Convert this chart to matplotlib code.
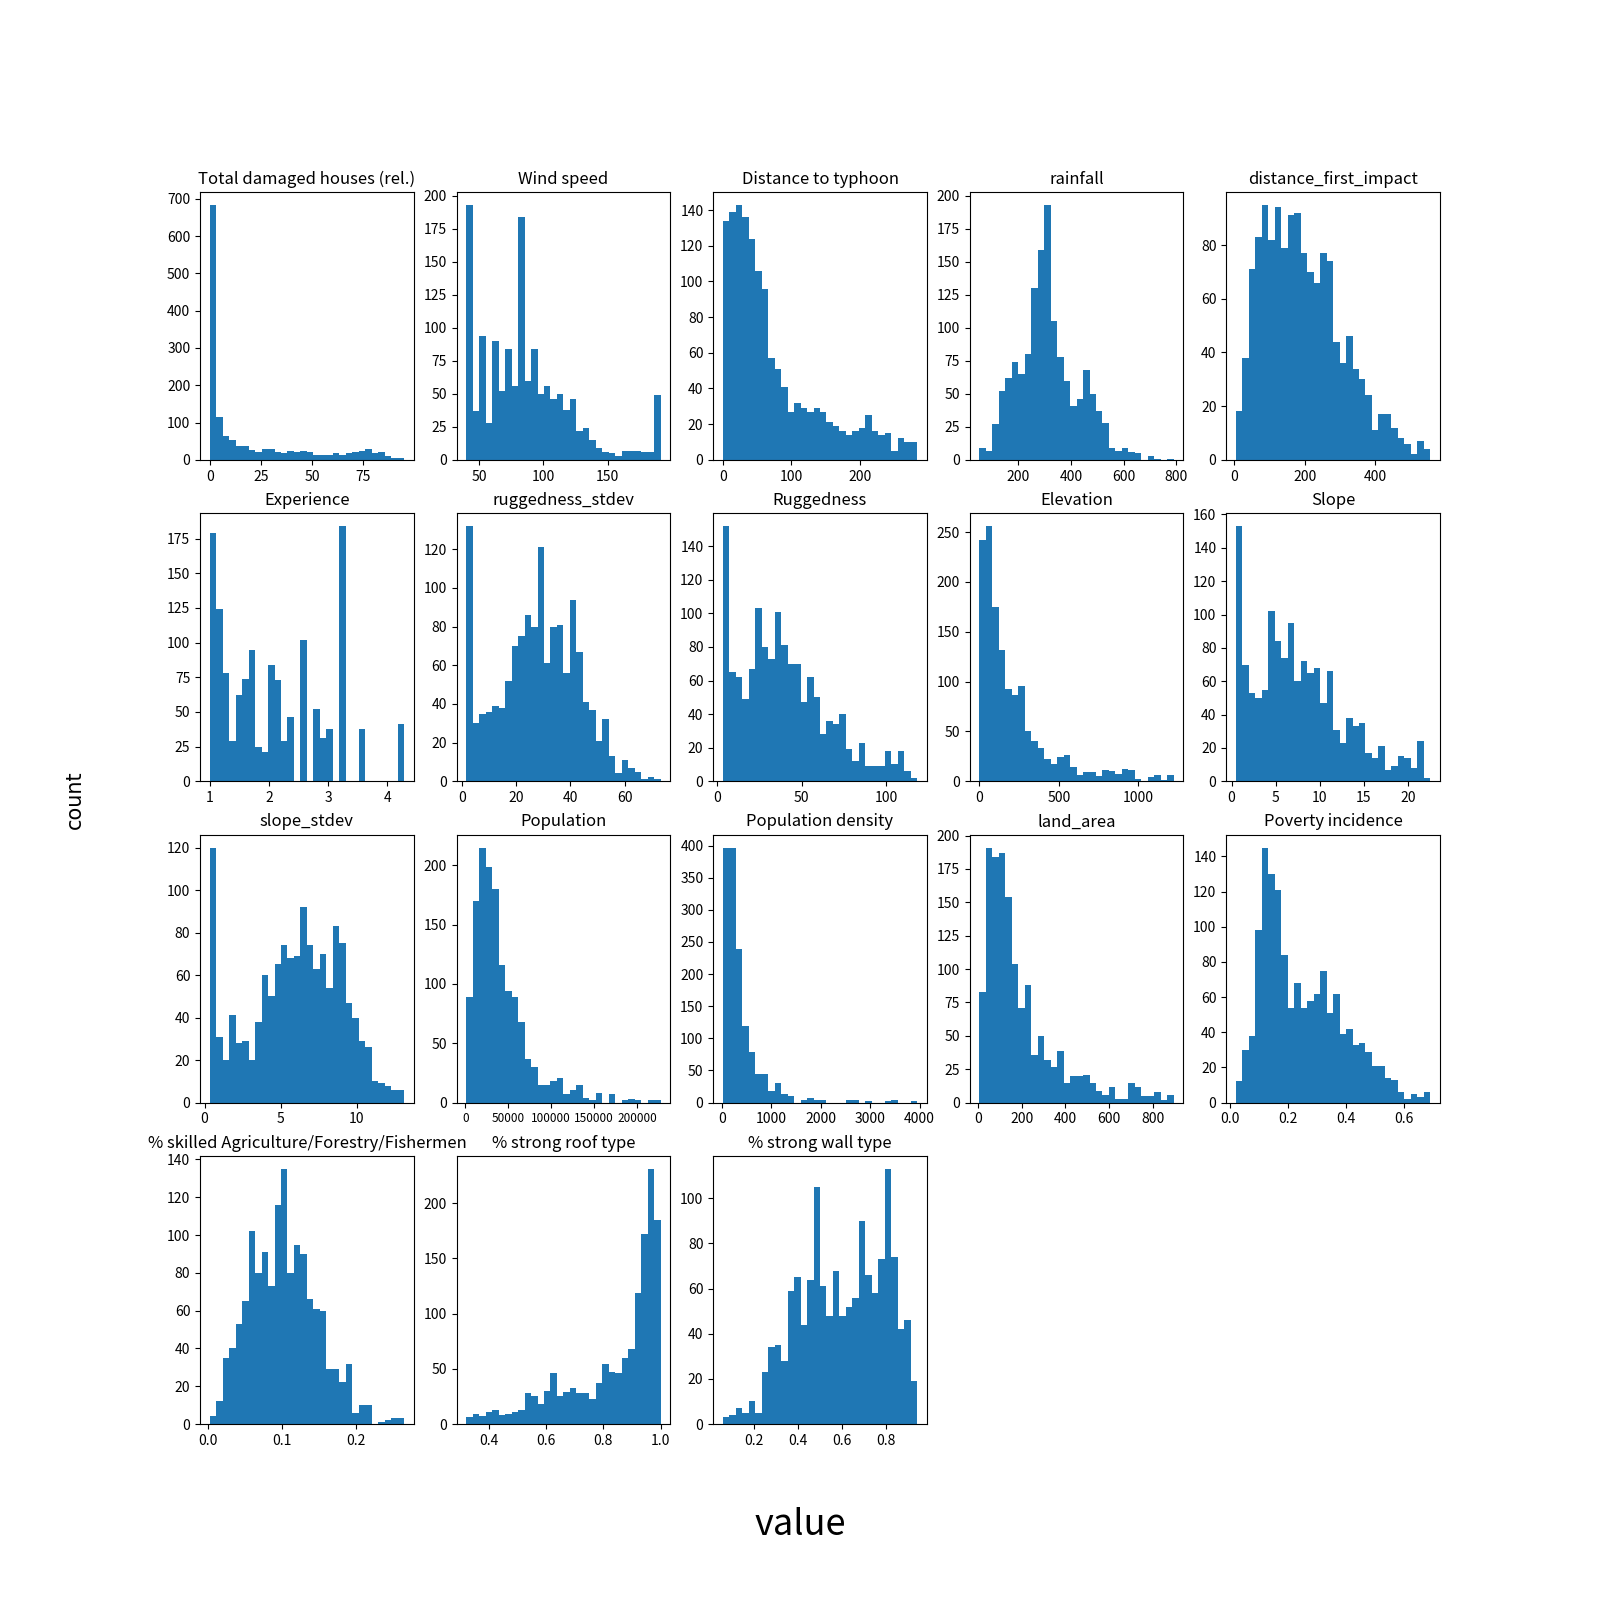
import numpy as np
import matplotlib
matplotlib.use('Agg')
import matplotlib.pyplot as plt

plt.rcParams['font.family'] = ['Noto Sans CJK SC', 'DejaVu Sans']

# histogram counts (30 bins each)
damaged = [684, 116, 65, 52, 36, 36, 26, 20, 28, 28, 22, 17, 25, 20, 25,
           20, 14, 14, 12, 17, 14, 17, 20, 25, 30, 17, 20, 9, 5, 5]
wind = [193, 37, 94, 28, 90, 52, 84, 56, 184, 60, 84, 50, 56, 46, 50,
        38, 46, 22, 24, 15, 9, 6, 5, 3, 7, 7, 7, 6, 6, 49]
dist_typhoon = [134, 139, 143, 136, 124, 106, 96, 57, 51, 41, 27, 32, 29, 27, 29,
                27, 21, 19, 16, 14, 16, 18, 25, 16, 14, 15, 5, 12, 10, 10]
rainfall = [9, 7, 27, 52, 62, 74, 65, 80, 130, 159, 193, 105, 78, 60, 41,
            46, 68, 50, 37, 28, 9, 7, 9, 6, 5, 0, 3, 1, 0, 1]
dist_first = [18, 38, 71, 83, 95, 82, 94, 79, 91, 92, 77, 70, 66, 77, 74,
              44, 36, 46, 34, 30, 24, 11, 17, 17, 12, 8, 6, 2, 7, 4]
experience = [179, 124, 78, 29, 62, 74, 95, 25, 21, 84, 73, 29, 46, 0, 102,
              0, 52, 31, 38, 0, 184, 0, 0, 38, 0, 0, 0, 0, 0, 41]
rug_stdev = [132, 30, 35, 36, 39, 38, 52, 70, 75, 86, 80, 121, 61, 80, 81,
             56, 94, 67, 41, 37, 21, 32, 13, 4, 11, 7, 5, 1, 2, 1]
rug = [152, 65, 62, 49, 67, 103, 80, 73, 101, 81, 70, 70, 47, 62, 50,
       28, 36, 34, 40, 19, 12, 23, 9, 9, 9, 18, 10, 18, 6, 2]
elevation = [242, 256, 175, 132, 93, 87, 96, 50, 40, 33, 22, 17, 24, 26, 14,
             6, 9, 9, 5, 11, 10, 7, 12, 11, 2, 0, 4, 6, 1, 6]
slope = [153, 70, 53, 50, 55, 102, 84, 74, 95, 60, 72, 65, 68, 47, 66,
         31, 23, 38, 33, 35, 17, 14, 21, 7, 9, 15, 14, 8, 24, 2]
slope_stdev = [120, 31, 20, 41, 28, 29, 20, 38, 60, 50, 65, 74, 68, 69, 92,
               74, 63, 70, 54, 83, 75, 47, 40, 29, 26, 10, 9, 8, 6, 6]
population = [89, 170, 215, 199, 180, 116, 94, 89, 68, 37, 30, 15, 15, 18, 21,
              7, 11, 15, 4, 2, 8, 0, 7, 0, 2, 3, 2, 0, 2, 2]
pop_density = [397, 397, 239, 120, 78, 44, 44, 18, 30, 13, 10, 0, 4, 7, 4,
               4, 0, 0, 0, 4, 4, 0, 2, 0, 0, 2, 4, 0, 0, 2]
land_area = [83, 191, 184, 187, 154, 104, 71, 88, 36, 50, 32, 27, 39, 15, 20,
             20, 21, 15, 9, 6, 12, 3, 3, 15, 12, 5, 5, 8, 2, 6]
poverty = [12, 30, 38, 98, 145, 130, 121, 84, 54, 68, 54, 58, 62, 75, 51,
           62, 39, 42, 33, 34, 29, 21, 21, 14, 13, 6, 2, 5, 3, 6]
skilled = [4, 12, 35, 40, 53, 65, 102, 80, 91, 73, 116, 135, 80, 95, 90,
           66, 61, 60, 29, 29, 22, 32, 6, 10, 10, 0, 1, 2, 3, 3]
roof = [6, 9, 7, 11, 13, 8, 9, 11, 13, 28, 25, 18, 30, 46, 25,
        29, 33, 28, 28, 23, 37, 54, 47, 46, 60, 68, 119, 172, 231, 185]
wall = [3, 4, 7, 5, 10, 5, 23, 34, 35, 28, 59, 65, 44, 64, 105,
        61, 48, 68, 48, 52, 56, 90, 66, 58, 73, 113, 74, 42, 46, 19]

# data min / max of each feature
ranges = [(0, 95), (40, 191), (0, 284), (53, 790), (5, 556),
          (1.0, 4.285), (1.5, 73.3), (3.6, 118.2), (0, 1224), (0.49, 22.54),
          (0.34, 13.1), (1200, 227600), (20, 3950), (4.6, 897), (0.0207, 0.691),
          (0.0024, 0.265), (0.3215, 1.0), (0.057, 0.941)]

titles = ['Total damaged houses (rel.)', 'Wind speed', 'Distance to typhoon',
          'rainfall', 'distance_first_impact', 'Experience', 'ruggedness_stdev',
          'Ruggedness', 'Elevation', 'Slope', 'slope_stdev', 'Population',
          'Population density', 'land_area', 'Poverty incidence',
          '% skilled Agriculture/Forestry/Fishermen', '% strong roof type',
          '% strong wall type']

all_counts = [damaged, wind, dist_typhoon, rainfall, dist_first, experience,
              rug_stdev, rug, elevation, slope, slope_stdev, population,
              pop_density, land_area, poverty, skilled, roof, wall]

fig, axes = plt.subplots(4, 5, figsize=(16, 16), dpi=100)

for ax, title, (lo, hi), counts in zip(axes.flat, titles, ranges, all_counts):
    edges = np.linspace(lo, hi, len(counts) + 1)
    ax.hist(edges[:-1], bins=edges, weights=counts, color='#1f77b4')
    ax.set_title(title, fontsize=12)

# long population tick labels: a bit smaller so they don't run together
axes.flat[11].tick_params(axis='x', labelsize=8.5)

# empty slots
for ax in axes.flat[len(titles):]:
    ax.axis('off')

fig.text(0.5, 0.047, 'value', ha='center', va='center', fontsize=26)
fig.text(0.047, 0.5, 'count', rotation=90, ha='center', va='center',
         family='DejaVu Sans', fontsize=15)

fig.savefig('out.png')
